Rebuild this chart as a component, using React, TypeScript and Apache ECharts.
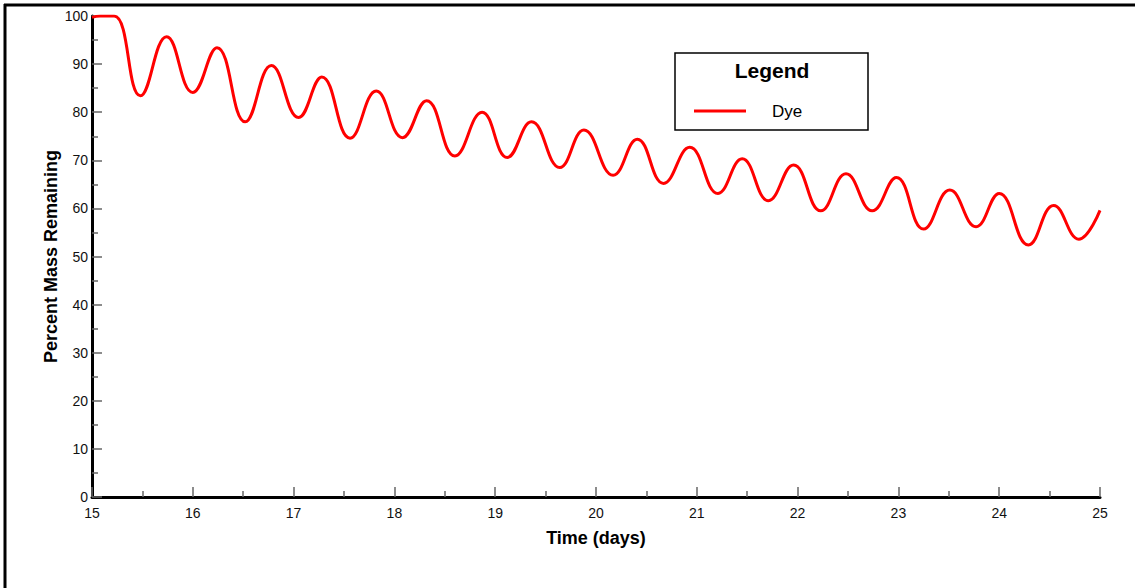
import React, { useEffect, useRef } from "react";
import * as echarts from "echarts";

const times = [
  15.0, 15.08, 15.22, 15.48, 15.74, 16.0, 16.24, 16.52, 16.78,
  17.05, 17.28, 17.56, 17.82, 18.08, 18.32, 18.6, 18.87, 19.12, 19.36, 19.64,
  19.88, 20.17, 20.41, 20.67, 20.93, 21.21, 21.45, 21.71, 21.96, 22.23, 22.48,
  22.74, 22.98, 23.25, 23.51, 23.77, 24.0, 24.29, 24.54, 24.79, 25.0,
];
const dyeValues = [
  99.7, 100, 100, 83.4, 95.7, 84.1, 93.4, 78.0, 89.7,
  78.9, 87.3, 74.6, 84.4, 74.7, 82.4, 70.9, 80.0, 70.6, 78.0, 68.5,
  76.3, 66.9, 74.4, 65.2, 72.7, 63.1, 70.3, 61.6, 69.0, 59.5, 67.2,
  59.5, 66.4, 55.7, 63.8, 56.2, 63.1, 52.4, 60.6, 53.6, 59.6,
];
const seriesName = "Dye";
const legendTitle = "Legend";
const xTitle = "Time (days)";
const yTitle = "Percent Mass Remaining";

export default function App() {
  const ref = useRef<HTMLDivElement>(null);
  useEffect(() => {
    if (!ref.current) return;
    const chart = echarts.init(ref.current, null, { renderer: "svg" });
    const font = "Liberation Sans, Arial, sans-serif";
    chart.setOption({
      animation: false,
      backgroundColor: "#ffffff",
      textStyle: { fontFamily: font },
      grid: { left: 92, right: 35, top: 16, bottom: 91, containLabel: false },
      xAxis: {
        type: "value",
        min: 15,
        max: 25,
        interval: 1,
        name: xTitle,
        nameLocation: "middle",
        nameGap: 32,
        nameTextStyle: { fontSize: 18, fontWeight: "bold", color: "#000", fontFamily: font },
        axisLine: { show: true, onZero: false, lineStyle: { color: "#000", width: 3 } },
        axisTick: { show: true, inside: true, length: 10, lineStyle: { color: "#666", width: 1.5 } },
        minorTick: { show: true, splitNumber: 2, length: 6, lineStyle: { color: "#666", width: 1.5 } },
        splitLine: { show: false },
        axisLabel: { fontSize: 14, color: "#111", margin: 9, fontFamily: font },
      },
      yAxis: {
        type: "value",
        min: 0,
        max: 100,
        interval: 10,
        name: yTitle,
        nameLocation: "middle",
        nameGap: 32,
        nameMoveOverlap: false,
        nameRotate: 90,
        nameTextStyle: { fontSize: 18, fontWeight: "bold", color: "#000", fontFamily: font },
        axisLine: { show: true, lineStyle: { color: "#000", width: 3 } },
        axisTick: { show: true, inside: true, length: 10, lineStyle: { color: "#666", width: 1.5 } },
        minorTick: { show: true, splitNumber: 2, length: 6, lineStyle: { color: "#666", width: 1.5 } },
        splitLine: { show: false },
        axisLabel: { fontSize: 14, color: "#111", margin: 4, fontFamily: font },
      },
      series: [
        {
          name: seriesName,
          type: "line",
          data: times.map((t, i) => [t, dyeValues[i]]),
          smooth: 0.45,
          symbol: "none",
          lineStyle: { color: "#ff0000", width: 3 },
          z: 3,
        },
      ],
      graphic: [
        { type: "line", shape: { x1: 4, y1: 5, x2: 1135, y2: 5 }, style: { stroke: "#000", lineWidth: 3 } },
        { type: "line", shape: { x1: 5, y1: 4, x2: 5, y2: 588 }, style: { stroke: "#000", lineWidth: 3 } },
        {
          type: "rect",
          shape: { x: 675, y: 53, width: 193, height: 77 },
          style: { fill: "#fff", stroke: "#000", lineWidth: 1.5 },
          z: 10,
        },
        {
          type: "text",
          x: 772,
          y: 70,
          style: {
            text: legendTitle,
            font: "bold 21px " + font,
            fill: "#000",
            align: "center",
            verticalAlign: "middle",
          },
          z: 11,
        },
        {
          type: "line",
          shape: { x1: 694, y1: 111, x2: 746, y2: 111 },
          style: { stroke: "#ff0000", lineWidth: 3 },
          z: 11,
        },
        {
          type: "text",
          x: 772,
          y: 111,
          style: {
            text: seriesName,
            font: "17px " + font,
            fill: "#000",
            align: "left",
            verticalAlign: "middle",
          },
          z: 11,
        },
      ],
    });
    return () => chart.dispose();
  }, []);
  return (
    <div
      ref={ref}
      style={{ position: "fixed", left: 0, top: 0, width: 1135, height: 588 }}
    />
  );
}
